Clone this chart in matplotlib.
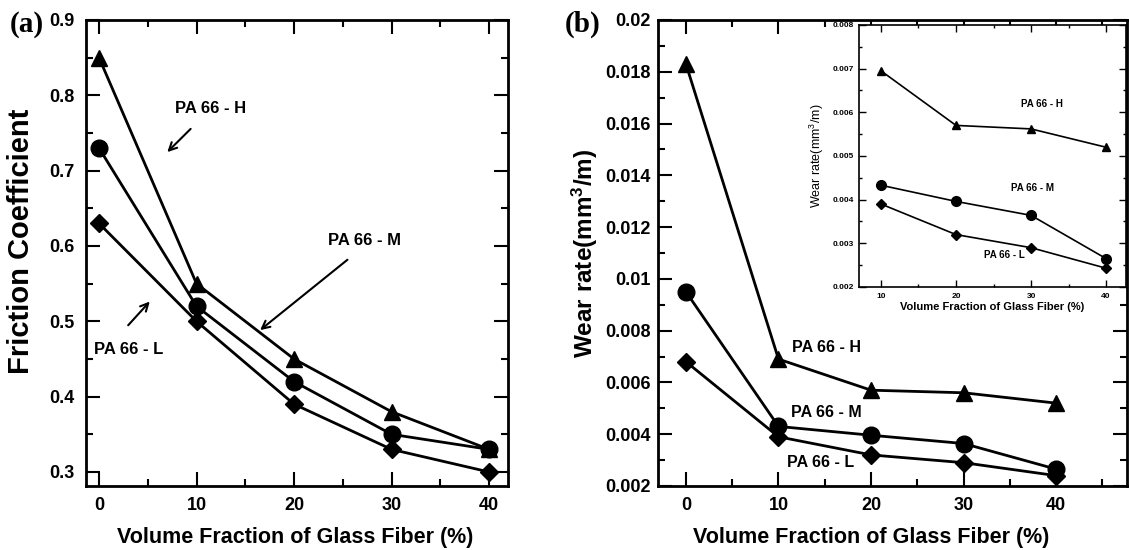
import matplotlib.pyplot as plt
from matplotlib.ticker import MultipleLocator, FormatStrFormatter

plt.rcParams['font.family'] = ['Liberation Sans', 'DejaVu Sans']
plt.rcParams['font.weight'] = 'bold'
plt.rcParams['mathtext.default'] = 'regular'

# ======================
# DATA
# ======================
fiber = [0, 10, 20, 30, 40]
fiber_inset = [10, 20, 30, 40]

friction_h = [0.85, 0.55, 0.45, 0.38, 0.33]
friction_m = [0.73, 0.52, 0.42, 0.35, 0.33]
friction_l = [0.63, 0.50, 0.39, 0.33, 0.30]

wear_h = [0.0183, 0.0069, 0.0057, 0.0056, 0.0052]
wear_m = [0.0095, 0.0043, 0.00396, 0.00364, 0.00265]
wear_l = [0.0068, 0.0039, 0.0032, 0.0029, 0.0024]

wear_h_inset = [0.00695, 0.0057, 0.00562, 0.0052]
wear_m_inset = [0.00433, 0.00396, 0.00364, 0.00265]
wear_l_inset = [0.0039, 0.0032, 0.0029, 0.00243]

xlabel = "Volume Fraction of Glass Fiber (%)"


def style_axes(ax, xmaj, xmin, ymaj, ymin, major_len, minor_len, width, spine_w, size):
    ax.xaxis.set_major_locator(MultipleLocator(xmaj))
    ax.xaxis.set_minor_locator(MultipleLocator(xmin))
    ax.yaxis.set_major_locator(MultipleLocator(ymaj))
    ax.yaxis.set_minor_locator(MultipleLocator(ymin))
    ax.yaxis.set_major_formatter(FormatStrFormatter('%g'))
    ax.xaxis.set_major_formatter(FormatStrFormatter('%g'))
    ax.tick_params(which='both', direction='in', top=True, right=True,
                   width=width, labelsize=size)
    ax.tick_params(which='major', length=major_len, pad=major_len * 0.8)
    ax.tick_params(which='minor', length=minor_len)
    for s in ax.spines.values():
        s.set_linewidth(spine_w)


fig = plt.figure(figsize=(11.29, 5.5), dpi=100)

# ======================
# (a) FRICTION COEFFICIENT
# ======================
ax1 = fig.add_axes([0.0762, 0.1164, 0.3738, 0.8473])
kw = dict(color='black', linewidth=2)
ax1.plot(fiber, friction_h, marker='^', markersize=12, **kw)
ax1.plot(fiber, friction_m, marker='o', markersize=12, **kw)
ax1.plot(fiber, friction_l, marker='D', markersize=9, **kw)
ax1.set_xlim(-1.33, 41.95)
ax1.set_ylim(0.2814, 0.9)
style_axes(ax1, 10, 5, 0.1, 0.05, 10, 5, 1.5, 2, 13)
ax1.set_ylabel("Friction Coefficient", fontsize=21, fontweight='bold')
ax1.yaxis.set_label_coords(-0.121, 0.524)
ax1.set_xlabel(xlabel, fontsize=15.5, fontweight='bold')
ax1.xaxis.set_label_coords(0.495, -0.088)

arrow = dict(arrowstyle='->', color='black', lw=1.5, mutation_scale=14)
ax1.text(11.4, 0.783, "PA 66 - H", fontsize=12, ha='center', va='center')
ax1.annotate("", xy=(6.8, 0.722), xytext=(9.6, 0.758), arrowprops=arrow)
ax1.text(27.2, 0.607, "PA 66 - M", fontsize=12, ha='center', va='center')
ax1.annotate("", xy=(16.3, 0.486), xytext=(25.7, 0.584), arrowprops=arrow)
ax1.text(3.0, 0.463, "PA 66 - L", fontsize=12, ha='center', va='center')
ax1.annotate("", xy=(5.4, 0.529), xytext=(2.8, 0.492), arrowprops=arrow)

fig.text(0.009, 0.955, "(a)", fontsize=21, fontweight='bold',
         family='Liberation Serif', va='center')

# ======================
# (b) WEAR RATE
# ======================
ax2 = fig.add_axes([0.5828, 0.1164, 0.4154, 0.8473])
ax2.plot(fiber, wear_h, marker='^', markersize=12, **kw)
ax2.plot(fiber, wear_m, marker='o', markersize=12, **kw)
ax2.plot(fiber, wear_l, marker='D', markersize=9, **kw)
ax2.set_xlim(-3.02, 47.65)
ax2.set_ylim(0.002, 0.02)
style_axes(ax2, 10, 5, 0.002, 0.001, 10, 5, 1.5, 2, 13)
ax2.tick_params(axis='y', which='major', pad=5)
ax2.set_ylabel("Wear rate(mm$^3$/m)", fontsize=17.5, fontweight='bold')
ax2.yaxis.set_label_coords(-0.123, 0.5)
ax2.set_xlabel(xlabel, fontsize=15.5, fontweight='bold')
ax2.xaxis.set_label_coords(0.455, -0.088)

ax2.text(15.2, 0.00734, "PA 66 - H", fontsize=11.5, ha='center', va='center')
ax2.text(15.2, 0.00483, "PA 66 - M", fontsize=11.5, ha='center', va='center')
ax2.text(14.5, 0.00289, "PA 66 - L", fontsize=11.5, ha='center', va='center')

fig.text(0.500, 0.955, "(b)", fontsize=21, fontweight='bold',
         family='Liberation Serif', va='center')

# ======================
# INSET
# ======================
ax3 = fig.add_axes([0.7609, 0.4782, 0.2365, 0.4764])
ikw = dict(color='black', linewidth=1.2)
ax3.plot(fiber_inset, wear_h_inset, marker='^', markersize=6, **ikw)
ax3.plot(fiber_inset, wear_m_inset, marker='o', markersize=7, **ikw)
ax3.plot(fiber_inset, wear_l_inset, marker='D', markersize=5, **ikw)
ax3.set_xlim(7.08, 42.66)
ax3.set_ylim(0.002, 0.008)
style_axes(ax3, 10, 5, 0.001, 0.0005, 5, 2.5, 1, 1.2, 6)
ax3.set_ylabel("Wear rate(mm$^3$/m)", fontsize=9, fontweight='normal')
ax3.yaxis.set_label_coords(-0.123, 0.5)
ax3.set_xlabel(xlabel, fontsize=8, fontweight='bold')
ax3.xaxis.set_label_coords(0.5, -0.057)

ax3.text(31.4, 0.00619, "PA 66 - H", fontsize=7, ha='center', va='center')
ax3.text(30.2, 0.00427, "PA 66 - M", fontsize=7, ha='center', va='center')
ax3.text(26.5, 0.00273, "PA 66 - L", fontsize=7, ha='center', va='center')

plt.savefig('out.png', dpi=100)
